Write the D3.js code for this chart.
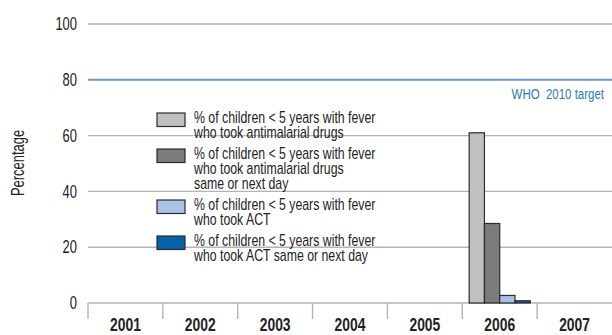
<!DOCTYPE html>
<html>
<head>
<meta charset="utf-8">
<script src="https://cdn.jsdelivr.net/npm/d3@7"></script>
<style>
  html, body { margin: 0; padding: 0; background: #fff; }
  svg { display: block; font-family: "Liberation Sans", Arial, sans-serif; }
</style>
</head>
<body>
<div id="chart"></div>
<script>
// data
var years = ["2001", "2002", "2003", "2004", "2005", "2006", "2007"];
var seriesKeys = ["anti", "antiSame", "act", "actSame"];
var seriesLabels = [
    ["% of children < 5 years with fever", "who took antimalarial drugs"],
    ["% of children < 5 years with fever", "who took antimalarial drugs", "same or next day"],
    ["% of children < 5 years with fever", "who took ACT"],
    ["% of children < 5 years with fever", "who took ACT same or next day"]
];
var antiValues     = [null, null, null, null, null, 61, null];
var antiSameValues = [null, null, null, null, null, 28.5, null];
var actValues      = [null, null, null, null, null, 2.7, null];
var actSameValues  = [null, null, null, null, null, 0.8, null];
var yTicks = [0, 20, 40, 60, 80, 100];
var targetValue = 80;
var targetLabel = "WHO  2010 target";

var colors = ["#c0c0c0", "#7b7b7b", "#a9c0e7", "#0561a8"];

var w = 612,
    h = 335;

var svg = d3.select("#chart").append("svg")
    .attr("width", w)
    .attr("height", h)
    .attr("viewBox", "0 0 " + w + " " + h);

// text placed at (x,y) then squeezed horizontally to look condensed
function ntext(parent, x, y, str, sx) {
    return parent.append("text")
        .attr("transform", "translate(" + x + "," + y + ") scale(" + sx + ",1)")
        .attr("fill", "#222")
        .style("white-space", "pre")
        .text(str);
}

var x0 = d3.scaleBand().domain(years).range([88, 612]);
var x1 = d3.scaleBand().domain(seriesKeys).range([0, x0.bandwidth()]).paddingOuter(0.45);
var y = d3.scaleLinear().domain([0, 100]).range([303, 24]);

// gridlines
svg.append("g")
    .selectAll("line")
    .data(yTicks.filter(function (d) { return d !== 0 && d !== targetValue; }))
    .join("line")
    .attr("x1", 88).attr("x2", 612)
    .attr("y1", function (d) { return y(d); })
    .attr("y2", function (d) { return y(d); })
    .attr("stroke", "#b4b4b4")
    .attr("stroke-width", 1.4);

// y labels
var yAxis = svg.append("g")
    .attr("transform", "translate(77,0)")
    .call(d3.axisLeft(y).tickValues(yTicks).tickSize(0).tickPadding(0));
yAxis.select(".domain").remove();
yAxis.selectAll("text")
    .attr("font-family", null)
    .attr("font-size", 17.5)
    .attr("fill", "#222")
    .attr("transform", "scale(0.74,1)");

ntext(svg, 0, 0, "Percentage", 1)
    .attr("transform", "translate(24,163) rotate(-90) scale(0.74,1)")
    .attr("text-anchor", "middle")
    .attr("font-size", 17.5);

// x axis line, boundary ticks, year labels
svg.append("line")
    .attr("x1", 88).attr("x2", 612)
    .attr("y1", y(0)).attr("y2", y(0))
    .attr("stroke", "#b4b4b4")
    .attr("stroke-width", 1.4);

svg.append("g")
    .selectAll("line")
    .data(years)
    .join("line")
    .attr("x1", function (d) { return x0(d); })
    .attr("x2", function (d) { return x0(d); })
    .attr("y1", y(0)).attr("y2", y(0) + 16)
    .attr("stroke", "#b4b4b4")
    .attr("stroke-width", 1.4);

var xLabels = svg.append("g");
years.forEach(function (d) {
    ntext(xLabels, x0(d) + x0.bandwidth() / 2, 331, d, 0.75)
        .attr("text-anchor", "middle")
        .attr("font-size", 18.5)
        .attr("font-weight", "bold");
});

// bars
var allValues = [antiValues, antiSameValues, actValues, actSameValues];
var rows = years.map(function (yr, i) {
    return {
        year: yr,
        vals: seriesKeys.map(function (k, j) { return { key: k, idx: j, v: allValues[j][i] }; })
    };
});

svg.append("g")
    .selectAll("g")
    .data(rows)
    .join("g")
    .attr("transform", function (d) { return "translate(" + x0(d.year) + ",0)"; })
    .selectAll("rect")
    .data(function (d) { return d.vals.filter(function (e) { return e.v != null; }); })
    .join("rect")
    .attr("x", function (d) { return x1(d.key); })
    .attr("width", x1.bandwidth())
    .attr("y", function (d) { return y(d.v); })
    .attr("height", function (d) { return y(0) - y(d.v); })
    .attr("fill", function (d) { return colors[d.idx]; })
    .attr("stroke", "#2b2b2b")
    .attr("stroke-width", 1.2);

// target line
svg.append("line")
    .attr("x1", 88).attr("x2", 612)
    .attr("y1", y(targetValue)).attr("y2", y(targetValue))
    .attr("stroke", "#6b97d6")
    .attr("stroke-width", 2);

ntext(svg, 604, 99, targetLabel, 0.75)
    .attr("text-anchor", "end")
    .attr("font-size", 15.3)
    .attr("fill", "#2c7bba");

// legend
var legend = svg.append("g");
var ly = 117;
seriesLabels.forEach(function (lines, i) {
    var g = legend.append("g").attr("transform", "translate(0," + ly + ")");
    g.append("rect")
        .attr("x", 157).attr("y", -4)
        .attr("width", 28).attr("height", 13.5)
        .attr("fill", colors[i])
        .attr("stroke", "#2b2b2b")
        .attr("stroke-width", 1.2);
    lines.forEach(function (d, k) {
        ntext(g, 194, k * 15 + 5.5, d, 0.75).attr("font-size", 16.4);
    });
    ly += lines.length * 15 + 6;
});
</script>
</body>
</html>
